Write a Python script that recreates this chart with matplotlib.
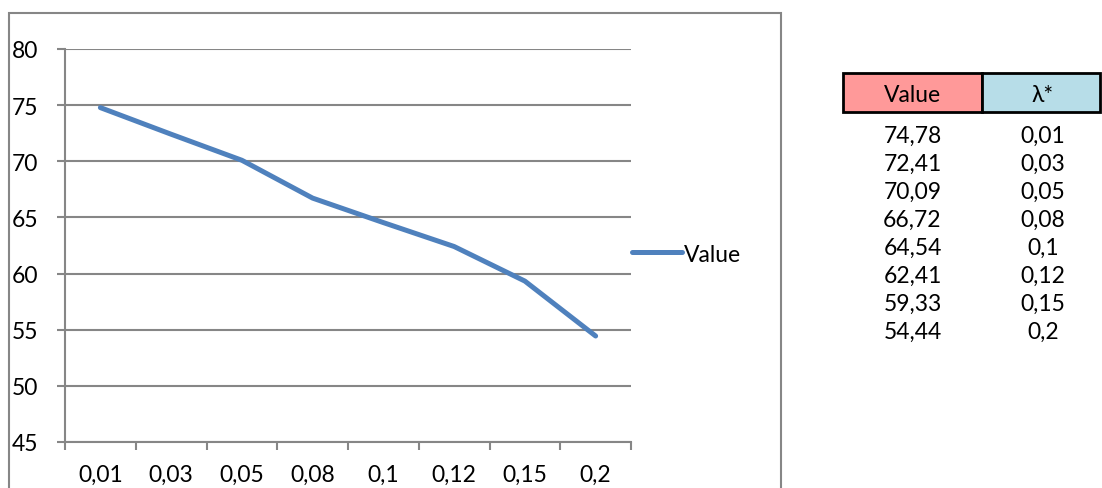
import matplotlib
matplotlib.use("Agg")
import matplotlib.pyplot as plt
from matplotlib.patches import Rectangle

# Data
lambdas = ["0,01", "0,03", "0,05", "0,08", "0,1", "0,12", "0,15", "0,2"]
values = [74.78, 72.41, 70.09, 66.72, 64.54, 62.41, 59.33, 54.44]
value_labels = ["74,78", "72,41", "70,09", "66,72", "64,54", "62,41", "59,33", "54,44"]
y_ticks = [45, 50, 55, 60, 65, 70, 75, 80]

W, H = 1102, 489
plt.rcParams['font.family'] = ['Lato', 'DejaVu Sans']
FS = 16.5
GRID = "#868686"
LINE = "#4F81BD"

fig = plt.figure(figsize=(W / 100, H / 100), dpi=100)
fig.patch.set_facecolor("white")

def fx(px):
    return px / W

def fy(py):
    return 1 - py / H

# Chart frame
fig.patches.append(Rectangle((fx(9), fy(560)), fx(781) - fx(9), fy(14) - fy(560),
                             transform=fig.transFigure, fill=False,
                             edgecolor=GRID, linewidth=1.5))

ax = fig.add_axes([fx(65), fy(443), fx(631) - fx(65), fy(50) - fy(443)])
ax.set_facecolor("none")
x = [i + 0.5 for i in range(len(values))]
line, = ax.plot(x, values, color=LINE, linewidth=3.6, solid_capstyle="round",
                solid_joinstyle="round", label="Value")
ax.set_xlim(0, len(values))
ax.set_ylim(45, 80)
ax.set_yticks(y_ticks)
ax.set_yticklabels([str(v) for v in y_ticks], fontsize=FS)
ax.tick_params(axis="y", length=6, color=GRID, width=1.5, pad=13)
ax.set_xticks(range(len(values) + 1))
ax.set_xticklabels([])
ax.set_xticks(x, minor=True)
ax.set_xticklabels(lambdas, minor=True, fontsize=FS)
ax.tick_params(axis="x", which="major", length=5.5, color=GRID, width=1.5, direction="out")
ax.tick_params(axis="x", which="minor", length=0, pad=16)
for s in ["top", "right"]:
    ax.spines[s].set_visible(False)
for s in ["left", "bottom"]:
    ax.spines[s].set_color(GRID)
    ax.spines[s].set_linewidth(1.5)
ax.grid(axis="y", color=GRID, linewidth=1.5)
ax.set_axisbelow(True)

leg = fig.legend(handles=[line], loc="center left", bbox_to_anchor=(fx(632), fy(255)),
                 frameon=False, fontsize=FS, handlelength=2.2, handletextpad=0.05,
                 borderaxespad=0, borderpad=0)

# Table at the right
col1_l, col1_r, col2_r = 843, 982, 1100
top, bot = 74, 113
fig.patches.append(Rectangle((fx(col1_l), fy(bot)), fx(col1_r) - fx(col1_l), fy(top) - fy(bot),
                             transform=fig.transFigure, facecolor="#FF9999",
                             edgecolor="black", linewidth=2))
fig.patches.append(Rectangle((fx(col1_r), fy(bot)), fx(col2_r) - fx(col1_r), fy(top) - fy(bot),
                             transform=fig.transFigure, facecolor="#B7DDE8",
                             edgecolor="black", linewidth=2))
c1 = (col1_l + col1_r) / 2
c2 = 1043
fig.text(fx(c1), fy(95), "Value", ha="center", va="center", fontsize=FS)
fig.text(fx(c2), fy(95), "λ*", ha="center", va="center", fontsize=FS)
for i, (vl, lam) in enumerate(zip(value_labels, lambdas)):
    yy = 136 + i * 28.1
    fig.text(fx(c1), fy(yy), vl, ha="center", va="center", fontsize=FS)
    fig.text(fx(c2), fy(yy), lam, ha="center", va="center", fontsize=FS)

fig.savefig("out.png", dpi=100)
